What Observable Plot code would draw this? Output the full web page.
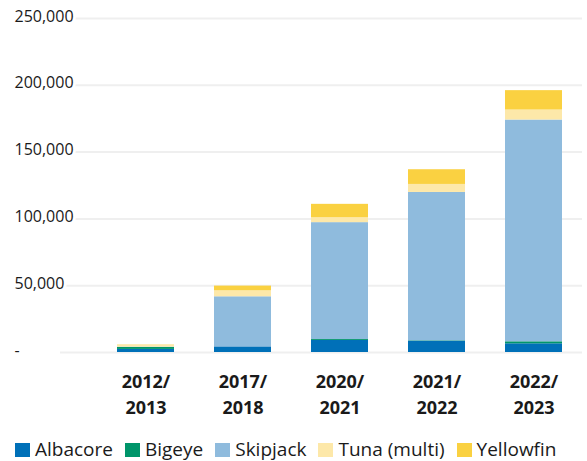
<!DOCTYPE html>
<html>
<head>
<meta charset="utf-8">
<script src="https://cdn.jsdelivr.net/npm/d3@7"></script>
<script src="https://cdn.jsdelivr.net/npm/@observablehq/plot@0.6"></script>
<style>
  body { margin: 0; background: #fff; font-family: "Open Sans", sans-serif; color: #1a1a1a; }
  #legend { display: flex; align-items: center; margin-top: 4px; height: 27px; line-height: 27px; padding-left: 15px; font-size: 19px; white-space: nowrap; }
  .item { display: flex; align-items: center; margin-right: 12px; }
  .sw { width: 15px; height: 14px; margin-right: 5px; display: inline-block; }
</style>
</head>
<body>
<div id="chart"></div>
<div id="legend"></div>
<script>
const categories = ["2012/2013", "2017/2018", "2020/2021", "2021/2022", "2022/2023"];
const species = ["Albacore", "Bigeye", "Skipjack", "Tuna (multi)", "Yellowfin"];
const colors = ["#0070B8", "#00956A", "#8FBBDD", "#FDE8A9", "#FAD141"];
const albacore = [2300, 4200, 9000, 8500, 6500];
const bigeye = [1500, 0, 700, 300, 1500];
const skipjack = [200, 37500, 87500, 111000, 166000];
const tunaMulti = [1500, 4500, 3700, 6000, 7500];
const yellowfin = [200, 3500, 10000, 11000, 14500];
const yTicks = [0, 50000, 100000, 150000, 200000, 250000];
const yTickLabels = ["-", "50,000", "100,000", "150,000", "200,000", "250,000"];

const seriesValues = [albacore, bigeye, skipjack, tunaMulti, yellowfin];
const rows = [];
categories.forEach((c, i) => {
  species.forEach((s, j) => rows.push({category: c, species: s, value: seriesValues[j][i]}));
});

const chart = Plot.plot({
  width: 587,
  height: 432,
  marginLeft: 97,
  marginRight: 5,
  marginTop: 18,
  marginBottom: 80,
  style: {fontFamily: "Open Sans, sans-serif", fontSize: "15px", color: "#1a1a1a", overflow: "visible"},
  x: {domain: categories, paddingInner: 0.41, paddingOuter: 0.205, label: null},
  y: {domain: [0, 250000], axis: null},
  color: {domain: species, range: colors},
  marks: [
    Plot.ruleY(yTicks, {stroke: "#efefef", strokeWidth: 2, insetLeft: -37}),
    Plot.barY(rows, {x: "category", y: "value", fill: "species"}),
    Plot.text(yTicks, {y: d => d, text: (d, i) => yTickLabels[i], frameAnchor: "left", textAnchor: "start", dx: -83, dy: -2, fill: "#1a1a1a", stroke: "white", strokeWidth: 6, fontSize: 16, letterSpacing: "2.3px"}),
    Plot.axisX({tickSize: 0, tickPadding: 18, fontSize: 18, fontWeight: "bold", lineHeight: 1.4, tickFormat: d => d.replace("/", "/\n"), label: null, fill: "#1a1a1a", letterSpacing: "1.8px"})
  ]
});
document.getElementById("chart").appendChild(chart);

const legend = document.getElementById("legend");
species.forEach((s, i) => {
  const item = document.createElement("span");
  item.className = "item";
  const sw = document.createElement("span");
  sw.className = "sw";
  sw.style.background = colors[i];
  item.appendChild(sw);
  item.appendChild(document.createTextNode(s));
  legend.appendChild(item);
});
</script>
</body>
</html>
